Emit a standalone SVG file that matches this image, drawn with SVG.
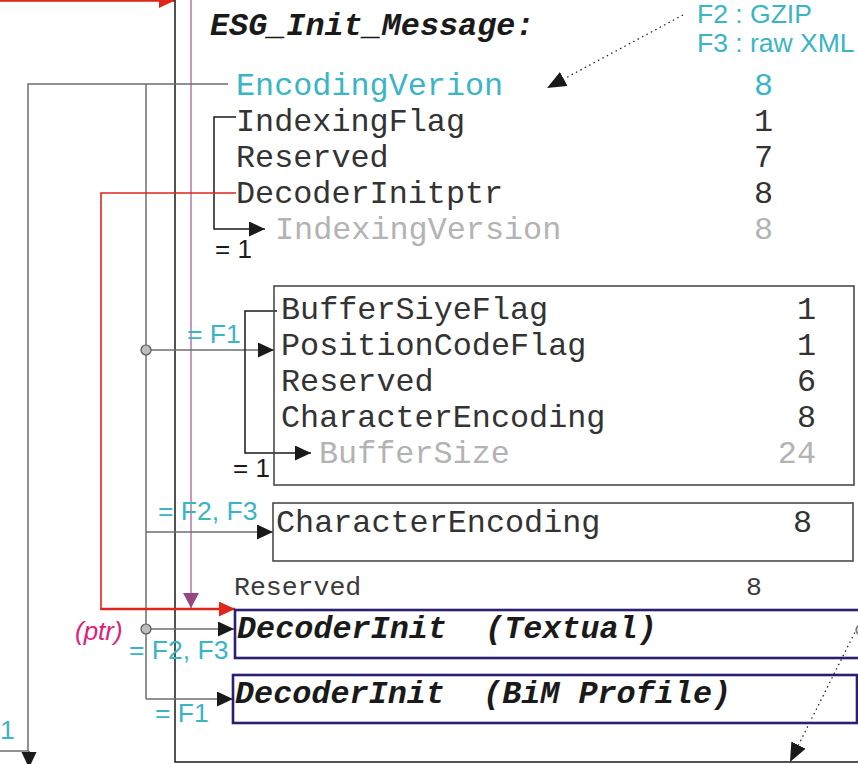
<svg xmlns="http://www.w3.org/2000/svg" width="858" height="764" viewBox="0 0 858 764">
<defs>
<style>
.m{font-family:"Liberation Mono","Courier New",monospace;font-size:31.8px;fill:#333333}
.mb{font-family:"Liberation Mono","Courier New",monospace;font-size:31.8px;font-weight:bold;font-style:italic;fill:#1a1a1a}
.sm{font-family:"Liberation Mono","Courier New",monospace;font-size:26.5px;fill:#3a3a3a}
.cy{fill:#3ab5c6}
.lg{fill:#b3b3b3}
.s{font-family:"Liberation Sans",Arial,sans-serif;font-size:26.5px;fill:#3ab5c6}
.k{font-family:"Liberation Sans",Arial,sans-serif;font-size:26px;fill:#1a1a1a}
.end{text-anchor:end}
.g{fill:none;stroke:#6e6e6e;stroke-width:1.5}
.b{fill:none;stroke:#1a1a1a;stroke-width:1.5}
.r{fill:none;stroke:#e0261c;stroke-width:1.6}
.box{fill:none;stroke:#4a4a4a;stroke-width:1.6}
.nav{fill:none;stroke:#2a1f72;stroke-width:2.6}
.dot{fill:none;stroke:#1a1a1a;stroke-width:1.2;stroke-dasharray:1.5 3.5}
</style>
<marker id="ab" markerUnits="userSpaceOnUse" markerWidth="17" markerHeight="16" refX="16" refY="7.5" orient="auto"><path d="M0,0 L16,7.5 L0,15 z" fill="#1a1a1a"/></marker>
<marker id="ar" markerUnits="userSpaceOnUse" markerWidth="17" markerHeight="16" refX="16" refY="7.5" orient="auto"><path d="M0,0 L16,7.5 L0,15 z" fill="#e0261c"/></marker>
<marker id="ap" markerUnits="userSpaceOnUse" markerWidth="17" markerHeight="17" refX="15" refY="8" orient="auto"><path d="M0,0 L15,8 L0,16 z" fill="#964683"/></marker>
<marker id="ad" markerUnits="userSpaceOnUse" markerWidth="20" markerHeight="18" refX="19" refY="8" orient="auto"><path d="M0,0 L19,8 L0,16 z" fill="#1a1a1a"/></marker>
</defs>
<rect width="858" height="764" fill="#ffffff"/>

<g id="connectors">
<line x1="0" y1="0.5" x2="175" y2="0.5" stroke="#e0261c" stroke-width="2.6" marker-end="url(#ar)"/>
<path class="b" d="M175,0 V762 H858"/>
<line x1="191" y1="0" x2="191" y2="608" stroke="#a0569a" stroke-width="1.2" marker-end="url(#ap)"/>
<path class="g" d="M228,84 H28 V751"/>
<line x1="29" y1="751" x2="29" y2="768" stroke="#1a1a1a" stroke-width="1.2" marker-end="url(#ab)"/>
<line class="g" x1="0" y1="751" x2="29" y2="751"/>
<path class="g" d="M146,84 V699"/>
<line class="g" x1="146" y1="350" x2="274" y2="350" marker-end="url(#ab)"/>
<line class="g" x1="146" y1="532" x2="273" y2="532" marker-end="url(#ab)"/>
<line class="g" x1="146" y1="629" x2="234" y2="629" marker-end="url(#ab)"/>
<line class="g" x1="146" y1="699" x2="233" y2="699" marker-end="url(#ab)"/>
<circle cx="146" cy="350" r="5" fill="#bdbdbd" stroke="#555" stroke-width="1.2"/>
<circle cx="146" cy="629" r="5" fill="#bdbdbd" stroke="#555" stroke-width="1.2"/>
<path class="b" d="M236,117 H214 V229 H265" marker-end="url(#ab)"/>
<path class="b" d="M277,311 H245 V453 H311" marker-end="url(#ab)"/>
<path class="r" d="M236,193 H101 V609"/>
<line x1="100.2" y1="609" x2="235" y2="609" stroke="#e0261c" stroke-width="2.6" marker-end="url(#ar)"/>
<line class="dot" x1="683" y1="15" x2="547" y2="88" marker-end="url(#ad)"/>
<line class="dot" x1="857" y1="628" x2="790" y2="762" marker-end="url(#ad)"/>
<circle cx="861" cy="630" r="5" fill="#d0d0d0" stroke="#666" stroke-width="1.2"/>
</g>

<g id="title">
<text class="mb" x="210" y="35">ESG_Init_Message:</text>
</g>

<g id="legend">
<text class="s" x="697" y="23">F2 : GZIP</text>
<text class="s" x="697" y="52">F3 : raw XML</text>
</g>

<g id="header-fields">
<text class="m cy" x="236" y="95">EncodingVerion</text>
<text class="m cy end" x="773" y="95">8</text>
<text class="m" x="236" y="131">IndexingFlag</text>
<text class="m end" x="773" y="131">1</text>
<text class="m" x="236" y="167">Reserved</text>
<text class="m end" x="773" y="167">7</text>
<text class="m" x="236" y="203">DecoderInitptr</text>
<text class="m end" x="773" y="203">8</text>
<text class="m lg" x="275" y="239">IndexingVersion</text>
<text class="m lg end" x="773" y="239">8</text>
<text class="k" x="215" y="258">= 1</text>
</g>

<g id="f1-box">
<rect class="box" x="274" y="286" width="580" height="199"/>
<text class="m" x="281" y="319">BufferSiyeFlag</text>
<text class="m end" x="816" y="319">1</text>
<text class="m" x="281" y="355">PositionCodeFlag</text>
<text class="m end" x="816" y="355">1</text>
<text class="m" x="281" y="391">Reserved</text>
<text class="m end" x="816" y="391">6</text>
<text class="m" x="281" y="427">CharacterEncoding</text>
<text class="m end" x="816" y="427">8</text>
<text class="m lg" x="319" y="463">BufferSize</text>
<text class="m lg end" x="816" y="463">24</text>
<text class="s" x="187" y="343">= F1</text>
<text class="k" x="233" y="477">= 1</text>
</g>

<g id="f23-box">
<rect class="box" x="273" y="503" width="580" height="58"/>
<text class="m" x="276" y="532">CharacterEncoding</text>
<text class="m end" x="812" y="532">8</text>
<text class="s" x="158" y="520">= F2, F3</text>
</g>

<g id="reserved">
<text class="sm" x="234" y="595">Reserved</text>
<text class="sm end" x="762" y="595">8</text>
</g>

<g id="decoder-textual">
<rect class="nav" x="235" y="610" width="630" height="48"/>
<text class="mb" x="237" y="638" xml:space="preserve">DecoderInit  (Textual)</text>
<text x="75" y="640" font-family="Liberation Sans, Arial, sans-serif" font-size="26" font-style="italic" fill="#e0207a">(ptr)</text>
<text class="s" x="129" y="659">= F2, F3</text>
</g>

<g id="decoder-bim">
<rect class="nav" x="233" y="675" width="624" height="48"/>
<text class="mb" x="235" y="703" xml:space="preserve">DecoderInit  (BiM Profile)</text>
<text class="s" x="155" y="722">= F1</text>
<text class="s" x="0" y="739">1</text>
</g>
</svg>
